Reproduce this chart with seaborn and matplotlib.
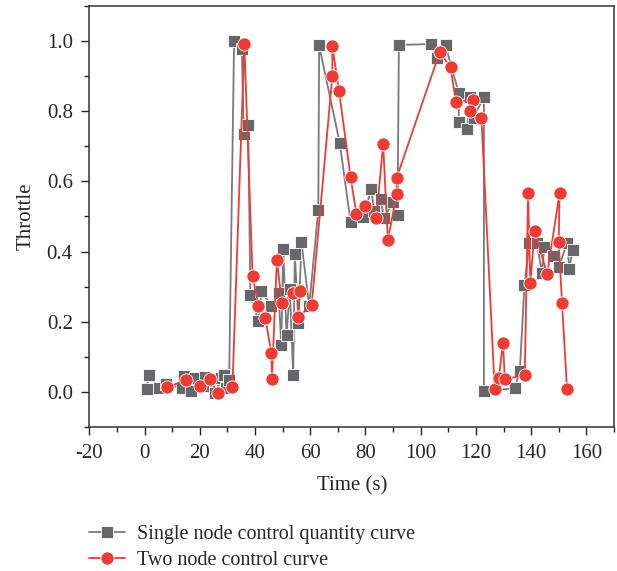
import matplotlib
matplotlib.use("Agg")
import matplotlib.pyplot as plt
import seaborn as sns
from matplotlib.ticker import MultipleLocator

# Single node control quantity curve (gray squares)
single_t = [0.7, 1.5, 5.3, 7.7, 13.7, 14.4, 16.8, 18.2, 21.2, 22.0, 25.6, 27.6,
            28.8, 29.4, 30.6, 32.4, 35.2, 35.9, 37.5, 38.3, 41.2, 42.3, 45.9,
            48.5, 49.5, 50.2, 51.4, 52.6, 53.8, 54.4, 55.7, 56.8, 59.6, 62.9,
            63.2, 70.7, 74.6, 79.1, 82.1, 83.1, 85.5, 86.7, 90.0, 91.6, 92.1,
            103.8, 106.0, 109.0, 113.8, 113.8, 116.8, 117.8, 119.2, 122.9,
            122.9, 134.0, 135.9, 137.6, 139.4, 142.1, 143.9, 144.8, 147.8,
            150.0, 153.0, 153.9, 155.0]
single_y = [0.008, 0.048, 0.012, 0.023, 0.010, 0.046, 0.004, 0.039, 0.017, 0.044,
            -0.004, 0.039, 0.048, 0.010, 0.034, 1.000, 0.976, 0.736, 0.759, 0.275,
            0.203, 0.287, 0.245, 0.283, 0.133, 0.407, 0.161, 0.293, 0.048, 0.393,
            0.196, 0.427, 0.245, 0.519, 0.987, 0.708, 0.484, 0.498, 0.577, 0.514,
            0.549, 0.495, 0.540, 0.504, 0.988, 0.991, 0.951, 0.987, 0.851, 0.770,
            0.748, 0.841, 0.781, 0.841, 0.003, 0.010, 0.060, 0.305, 0.424, 0.424,
            0.340, 0.412, 0.387, 0.355, 0.424, 0.351, 0.405]

# Two node control curve (red circles)
two_t = [8.0, 15.0, 20.0, 23.6, 26.4, 31.8, 36.1, 39.1, 41.2, 43.7, 45.9, 46.1,
         47.9, 49.7, 53.8, 56.3, 55.6, 60.5, 68.0, 68.0, 70.4, 74.6, 76.7, 79.7,
         83.9, 86.4, 88.1, 91.3, 91.3, 106.9, 110.8, 112.8, 118.9, 118.0, 122.0,
         126.8, 128.3, 129.8, 130.5, 137.7, 138.9, 139.7, 141.3, 145.8, 150.3,
         150.0, 151.2, 153.0]
two_y = [0.013, 0.034, 0.018, 0.037, -0.004, 0.015, 0.991, 0.330, 0.245, 0.210,
         0.112, 0.037, 0.376, 0.254, 0.281, 0.289, 0.213, 0.247, 0.901, 0.984,
         0.858, 0.612, 0.507, 0.529, 0.495, 0.706, 0.432, 0.564, 0.610, 0.968,
         0.925, 0.826, 0.832, 0.799, 0.780, 0.008, 0.039, 0.139, 0.036, 0.048,
         0.566, 0.311, 0.459, 0.335, 0.566, 0.428, 0.253, 0.009]

sns.set_style("ticks")
plt.rcParams['font.family'] = ['Liberation Serif', 'DejaVu Serif']
plt.rcParams['axes.unicode_minus'] = False

fig = plt.figure(figsize=(6.17, 5.71), dpi=100)
ax = fig.add_axes([0.145, 0.252, 0.85, 0.738])

sns.lineplot(x=single_t, y=single_y, sort=False, estimator=None, ax=ax,
             color="#7a7a7e", linewidth=1.3, marker="s", markersize=8,
             markerfacecolor="#66666b", markeredgecolor="white",
             markeredgewidth=0.6, label="Single node control quantity curve")
sns.lineplot(x=two_t, y=two_y, sort=False, estimator=None, ax=ax,
             color="#ee3b34", linewidth=1.3, marker="o", markersize=9.5,
             markerfacecolor="#ee3b34", markeredgecolor="white",
             markeredgewidth=0.6, label="Two node control curve")

ax.set_xlim(-20, 170)
ax.set_ylim(-0.1, 1.1)
ax.xaxis.set_major_locator(MultipleLocator(20))
ax.xaxis.set_minor_locator(MultipleLocator(10))
ax.yaxis.set_major_locator(MultipleLocator(0.2))
ax.yaxis.set_minor_locator(MultipleLocator(0.1))
ax.yaxis.set_major_formatter(matplotlib.ticker.FormatStrFormatter("%.1f"))
ax.tick_params(which="major", length=6, width=1, labelsize=15, direction="out", pad=6)
ax.tick_params(which="minor", length=3.5, width=1, direction="out")
for sp in ax.spines.values():
    sp.set_linewidth(1.1)
    sp.set_color("#333333")

ax.set_xlabel("Time (s)", fontsize=15, labelpad=10)
ax.set_ylabel("Throttle", fontsize=15, labelpad=8)

handles, labels = ax.get_legend_handles_labels()
ax.get_legend().remove()
fig.legend(handles, labels, loc="lower left", bbox_to_anchor=(0.115, -0.03),
           frameon=False, fontsize=14.5, handlelength=1.8, handletextpad=0.6,
           labelspacing=0.35)

fig.savefig("out.png", dpi=100)
